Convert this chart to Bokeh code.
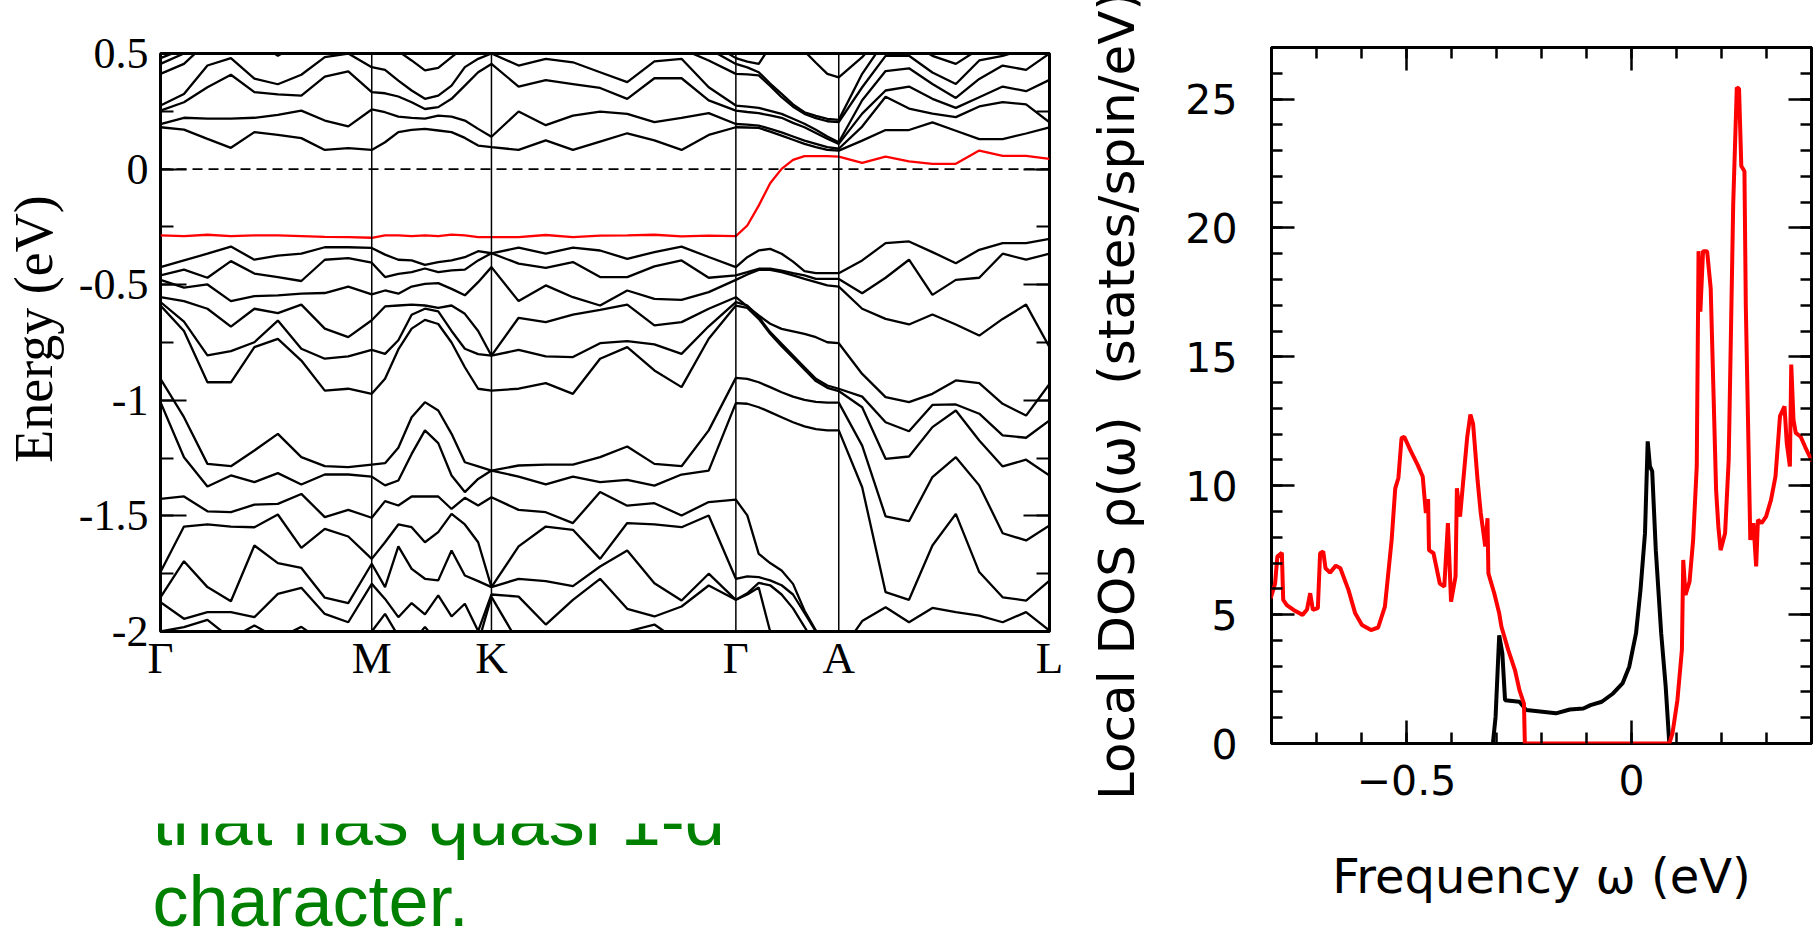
import numpy as np
from bokeh.plotting import figure
from bokeh.models import (Range1d, LinearAxis, FixedTicker, SingleIntervalTicker, Span,
                          CustomJSTickFormatter)
from bokeh.layouts import row, column
from bokeh.embed import file_html
from bokeh.resources import INLINE
from bokeh.core.properties import value

# ---------------- band structure data ----------------
hs_labels = ["Γ", "M", "K", "Γ", "A", "L"]
hs_pos = [0.0, 1.0, 1.5667, 2.7237, 3.2108, 4.2084]
pts_per_segment = 9

energy_ticks = [0.5, 0.0, -0.5, -1.0, -1.5, -2.0]
energy_tick_labels = ["0.5", "0", "-0.5", "-1", "-1.5", "-2"]

band_u1 = [0.181, 0.171, 0.131, 0.092, 0.160, 0.148, 0.134, 0.083, 0.091, 0.083,
           0.116, 0.160, 0.170, 0.174, 0.167, 0.160, 0.135, 0.102, 0.095,
           0.083, 0.124, 0.083, 0.119, 0.155, 0.124, 0.083, 0.148, 0.181,
           0.180, 0.178, 0.162, 0.145, 0.127, 0.109, 0.095, 0.083, 0.080,
           0.123, 0.169, 0.169, 0.202, 0.166, 0.130, 0.130, 0.154, 0.180]
band_u2 = [0.195, 0.222, 0.218, 0.218, 0.222, 0.235, 0.253, 0.210, 0.185, 0.258,
           0.246, 0.227, 0.222, 0.218, 0.231, 0.227, 0.210, 0.174, 0.140,
           0.249, 0.190, 0.231, 0.249, 0.239, 0.203, 0.222, 0.242, 0.195,
           0.192, 0.188, 0.174, 0.159, 0.141, 0.123, 0.109, 0.095, 0.088,
           0.184, 0.313, 0.262, 0.240, 0.225, 0.271, 0.290, 0.280, 0.202]
band_u3 = [0.253, 0.289, 0.354, 0.408, 0.333, 0.323, 0.318, 0.400, 0.423, 0.333,
           0.328, 0.314, 0.289, 0.260, 0.268, 0.304, 0.361, 0.419, 0.455,
           0.357, 0.385, 0.368, 0.351, 0.304, 0.393, 0.393, 0.297, 0.253,
           0.247, 0.242, 0.232, 0.222, 0.200, 0.181, 0.156, 0.131, 0.109,
           0.240, 0.340, 0.357, 0.304, 0.265, 0.311, 0.357, 0.337, 0.386]
band_u4 = [0.275, 0.325, 0.448, 0.480, 0.391, 0.367, 0.408, 0.484, 0.500, 0.441,
           0.429, 0.383, 0.340, 0.304, 0.318, 0.361, 0.441, 0.477, 0.500,
           0.448, 0.477, 0.462, 0.419, 0.376, 0.466, 0.477, 0.354, 0.275,
           0.270, 0.265, 0.252, 0.239, 0.218, 0.196, 0.170, 0.141, 0.116,
           0.298, 0.424, 0.436, 0.368, 0.308, 0.390, 0.448, 0.429, 0.500]
band_u5 = [0.412, 0.455, 0.550, 0.600, 0.560, 0.490, 0.550, 0.600, 0.580, 0.530,
           0.530, 0.510, 0.470, 0.427, 0.438, 0.484, 0.530, 0.560, 0.560,
           0.530, 0.520, 0.520, 0.550, 0.560, 0.540, 0.520, 0.470, 0.412,
           0.410, 0.405, 0.360, 0.311, 0.270, 0.239, 0.220, 0.207, 0.203,
           0.354, 0.490, 0.490, 0.418, 0.368, 0.470, 0.490, 0.520, 0.550]
band_u6 = [0.455, 0.500, 0.600, 0.650, 0.650, 0.600, 0.620, 0.650, 0.650, 0.600,
           0.600, 0.580, 0.550, 0.510, 0.520, 0.550, 0.600, 0.600, 0.600,
           0.600, 0.600, 0.600, 0.600, 0.600, 0.600, 0.580, 0.520, 0.455,
           0.440, 0.419, 0.370, 0.325, 0.280, 0.246, 0.230, 0.217, 0.213,
           0.412, 0.560, 0.550, 0.490, 0.455, 0.520, 0.560, 0.570, 0.580]
band_u7 = [0.480, 0.520, 0.620, 0.680, 0.680, 0.650, 0.660, 0.680, 0.680, 0.650,
           0.650, 0.630, 0.600, 0.580, 0.580, 0.600, 0.620, 0.620, 0.620,
           0.640, 0.650, 0.650, 0.650, 0.650, 0.630, 0.600, 0.550, 0.480,
           0.465, 0.455, 0.530, 0.600, 0.580, 0.510, 0.460, 0.412, 0.397,
           0.484, 0.600, 0.620, 0.600, 0.600, 0.620, 0.620, 0.620, 0.620]
band_red = [-0.287, -0.290, -0.284, -0.290, -0.287, -0.287, -0.290, -0.293, -0.294, -0.297,
            -0.287, -0.287, -0.290, -0.287, -0.290, -0.283, -0.287, -0.294, -0.294,
            -0.294, -0.285, -0.294, -0.288, -0.287, -0.284, -0.291, -0.288, -0.290,
            -0.244, -0.158, -0.061, 0.001, 0.040, 0.056, 0.056, 0.056, 0.054,
            0.027, 0.054, 0.033, 0.023, 0.023, 0.080, 0.057, 0.057, 0.044]
band_l1 = [-0.424, -0.395, -0.366, -0.335, -0.392, -0.374, -0.366, -0.338, -0.338, -0.341,
           -0.370, -0.392, -0.395, -0.414, -0.402, -0.395, -0.381, -0.355, -0.364,
           -0.340, -0.366, -0.340, -0.352, -0.388, -0.359, -0.335, -0.380, -0.424,
           -0.381, -0.352, -0.345, -0.366, -0.400, -0.441, -0.450, -0.450, -0.450,
           -0.395, -0.320, -0.313, -0.359, -0.407, -0.349, -0.320, -0.320, -0.302]
band_l2 = [-0.460, -0.435, -0.470, -0.398, -0.452, -0.467, -0.484, -0.392, -0.385, -0.405,
           -0.467, -0.453, -0.446, -0.430, -0.446, -0.438, -0.435, -0.395, -0.364,
           -0.409, -0.427, -0.402, -0.467, -0.467, -0.421, -0.395, -0.470, -0.460,
           -0.446, -0.431, -0.431, -0.439, -0.450, -0.460, -0.475, -0.475, -0.475,
           -0.537, -0.470, -0.392, -0.544, -0.479, -0.470, -0.366, -0.392, -0.366]
band_l3 = [-0.479, -0.513, -0.499, -0.571, -0.549, -0.546, -0.539, -0.536, -0.508, -0.542,
           -0.525, -0.539, -0.508, -0.496, -0.493, -0.518, -0.546, -0.489, -0.424,
           -0.571, -0.503, -0.554, -0.590, -0.525, -0.561, -0.566, -0.532, -0.479,
           -0.456, -0.436, -0.436, -0.446, -0.460, -0.475, -0.489, -0.503, -0.508,
           -0.604, -0.648, -0.672, -0.629, -0.672, -0.720, -0.648, -0.586, -0.770]
band_l4 = [-0.554, -0.571, -0.604, -0.681, -0.604, -0.623, -0.586, -0.690, -0.727, -0.654,
           -0.594, -0.590, -0.586, -0.590, -0.600, -0.590, -0.626, -0.700, -0.807,
           -0.643, -0.662, -0.629, -0.609, -0.586, -0.676, -0.662, -0.604, -0.554,
           -0.594, -0.633, -0.669, -0.691, -0.702, -0.713, -0.727, -0.749, -0.753,
           -0.886, -0.986, -1.008, -0.972, -0.914, -0.926, -1.015, -1.066, -0.929]
band_l5 = [-0.575, -0.660, -0.806, -0.787, -0.749, -0.655, -0.777, -0.820, -0.810, -0.782,
           -0.799, -0.740, -0.630, -0.604, -0.615, -0.700, -0.777, -0.800, -0.807,
           -0.782, -0.810, -0.813, -0.753, -0.744, -0.758, -0.799, -0.680, -0.575,
           -0.590, -0.640, -0.705, -0.756, -0.806, -0.857, -0.907, -0.936, -0.950,
           -0.984, -1.095, -1.134, -1.020, -1.018, -1.058, -1.152, -1.162, -1.087]
band_l6 = [-0.590, -0.700, -0.922, -0.922, -0.770, -0.734, -0.828, -0.958, -0.950, -0.972,
           -0.907, -0.780, -0.690, -0.652, -0.670, -0.750, -0.857, -0.950, -0.958,
           -0.950, -0.926, -0.972, -0.820, -0.770, -0.871, -0.943, -0.734, -0.590,
           -0.600, -0.648, -0.712, -0.766, -0.816, -0.867, -0.917, -0.946, -0.960,
           -1.030, -1.253, -1.243, -1.116, -1.044, -1.174, -1.286, -1.257, -1.325]
band_l7 = [-0.907, -1.073, -1.275, -1.285, -1.217, -1.145, -1.246, -1.285, -1.289, -1.278,
           -1.272, -1.205, -1.073, -1.008, -1.044, -1.145, -1.268, -1.286, -1.304,
           -1.282, -1.278, -1.278, -1.246, -1.200, -1.275, -1.285, -1.130, -0.903,
           -0.907, -0.922, -0.943, -0.965, -0.984, -0.998, -1.007, -1.010, -1.010,
           -1.196, -1.502, -1.523, -1.332, -1.246, -1.368, -1.575, -1.606, -1.541]
band_l8 = [-1.008, -1.246, -1.373, -1.325, -1.354, -1.315, -1.364, -1.321, -1.321, -1.330,
           -1.368, -1.347, -1.232, -1.130, -1.185, -1.325, -1.397, -1.340, -1.304,
           -1.330, -1.364, -1.330, -1.354, -1.344, -1.369, -1.321, -1.304, -1.012,
           -1.015, -1.030, -1.051, -1.073, -1.095, -1.113, -1.125, -1.130, -1.130,
           -1.376, -1.830, -1.863, -1.628, -1.491, -1.743, -1.852, -1.866, -1.780]
band_l9 = [-1.426, -1.416, -1.480, -1.484, -1.451, -1.448, -1.405, -1.505, -1.474, -1.508,
           -1.436, -1.455, -1.416, -1.416, -1.416, -1.470, -1.422, -1.455, -1.419,
           -1.474, -1.484, -1.531, -1.397, -1.456, -1.445, -1.498, -1.440, -1.430,
           -1.498, -1.664, -1.704, -1.736, -1.794, -1.909, -1.996, -2.050, -2.100,
           -1.955, -1.895, -1.960, -1.898, -1.916, -1.931, -1.960, -1.916, -1.996]
band_l10 = [-1.743, -1.546, -1.537, -1.546, -1.549, -1.494, -1.638, -1.556, -1.589, -1.686,
            -1.614, -1.537, -1.549, -1.614, -1.570, -1.491, -1.537, -1.614, -1.808,
            -1.632, -1.546, -1.560, -1.686, -1.531, -1.537, -1.549, -1.498, -1.772,
            -1.762, -1.765, -1.779, -1.800, -1.840, -1.920, -2.000, -2.080, -2.150,
            -2.200, -2.200, -2.200, -2.200, -2.200, -2.200, -2.200, -2.200, -2.200]
band_l11 = [-1.852, -1.696, -1.808, -1.869, -1.628, -1.704, -1.725, -1.854, -1.877, -1.707,
            -1.808, -1.632, -1.729, -1.772, -1.779, -1.650, -1.758, -1.782, -1.808,
            -1.772, -1.782, -1.804, -1.719, -1.650, -1.791, -1.866, -1.750, -1.863,
            -1.835, -1.790, -1.800, -1.840, -1.900, -1.980, -2.060, -2.150, -2.200,
            -2.250, -2.250, -2.250, -2.250, -2.250, -2.250, -2.250, -2.250, -2.250]
band_l12 = [-1.873, -1.945, -1.916, -1.916, -1.938, -1.837, -1.811, -1.924, -1.960, -1.794,
            -1.859, -1.938, -1.877, -1.926, -1.844, -1.935, -1.880, -1.998, -1.840,
            -1.849, -1.970, -1.863, -1.772, -1.902, -1.935, -1.892, -1.801, -1.863,
            -1.840, -1.810, -2.000, -2.200, -2.300, -2.300, -2.300, -2.300, -2.300,
            -2.300, -2.300, -2.300, -2.300, -2.300, -2.300, -2.300, -2.300, -2.300]
band_l13 = [-2.000, -1.981, -1.950, -2.030, -1.974, -2.030, -1.980, -2.050, -2.100, -2.000,
            -1.924, -2.020, -2.050, -1.980, -2.050, -2.050, -2.050, -2.050, -1.850,
            -2.050, -2.100, -2.100, -2.080, -2.000, -1.970, -2.050, -2.100, -2.000,
            -2.300, -2.300, -2.300, -2.300, -2.300, -2.300, -2.300, -2.300, -2.300,
            -2.350, -2.350, -2.350, -2.350, -2.350, -2.350, -2.350, -2.350, -2.350]

black_bands = [band_u1, band_u2, band_u3, band_u4, band_u5, band_u6, band_u7,
               band_l1, band_l2, band_l3, band_l4, band_l5, band_l6, band_l7,
               band_l8, band_l9, band_l10, band_l11, band_l12, band_l13]

# ---------------- local DOS data ----------------
omega_ticks = [-0.5, 0.0]
omega_tick_labels = ["\u22120.5", "0"]

dos_w_red = [-0.802, -0.792, -0.787, -0.777, -0.774, -0.766, -0.751, -0.731, -0.721, -0.714,
             -0.708, -0.697, -0.692, -0.685, -0.680, -0.670, -0.657, -0.647, -0.629, -0.614,
             -0.599, -0.579, -0.563, -0.548, -0.533, -0.525, -0.518, -0.511, -0.505, -0.492,
             -0.475, -0.464, -0.457, -0.452, -0.450, -0.440, -0.426, -0.416, -0.408, -0.401,
             -0.391, -0.388, -0.381, -0.371, -0.365, -0.358, -0.352, -0.342, -0.335, -0.325,
             -0.320, -0.318, -0.305, -0.294, -0.289, -0.274, -0.259, -0.249, -0.239, -0.237,
             0.084, 0.091, 0.102, 0.112, 0.115, 0.120, 0.129, 0.137, 0.145, 0.149,
             0.153, 0.159, 0.168, 0.176, 0.188, 0.193, 0.198, 0.208, 0.216, 0.226,
             0.234, 0.239, 0.244, 0.251, 0.254, 0.264, 0.271, 0.277, 0.281, 0.289,
             0.299, 0.310, 0.320, 0.330, 0.340, 0.345, 0.352, 0.355, 0.360, 0.365,
             0.376, 0.386, 0.401]
dos_red = [5.63, 6.20, 7.25, 7.40, 5.57, 5.37, 5.18, 4.99, 5.20, 5.83,
           5.18, 5.25, 7.38, 7.45, 6.80, 6.63, 6.90, 6.80, 5.96, 5.05,
           4.60, 4.40, 4.50, 5.31, 7.90, 9.90, 10.30, 11.85, 11.90, 11.40,
           10.80, 10.36, 8.94, 9.48, 7.50, 7.38, 6.20, 6.09, 8.55, 5.50,
           6.48, 9.90, 8.80, 10.75, 11.90, 12.76, 12.40, 10.20, 8.94, 7.64,
           8.74, 6.60, 5.83, 5.05, 4.53, 3.63, 2.85, 2.07, 1.55, 0.00,
           0.00, 0.39, 1.68, 3.63, 7.12, 5.76, 6.28, 7.90, 10.75, 19.10,
           16.75, 19.10, 19.10, 17.66, 9.84, 8.42, 7.50, 8.16, 11.00, 20.90,
           25.45, 25.40, 22.40, 22.20, 17.00, 7.90, 8.55, 6.87, 8.68, 8.55,
           8.80, 9.45, 10.36, 12.70, 13.08, 11.66, 10.75, 14.70, 12.56, 12.05,
           11.90, 11.50, 10.95]

dos_w_black = [-0.308, -0.302, -0.294, -0.287, -0.281, -0.249, -0.234, -0.198, -0.168, -0.137,
               -0.107, -0.091, -0.066, -0.041, -0.020, -0.005, 0.010, 0.020, 0.030, 0.036,
               0.041, 0.046, 0.054, 0.066, 0.076, 0.084]
dos_black = [0.00, 1.04, 4.20, 3.50, 1.68, 1.62, 1.30, 1.23, 1.17, 1.32,
             1.36, 1.49, 1.62, 1.94, 2.33, 2.98, 4.27, 5.96, 8.16, 11.72,
             10.75, 10.56, 7.50, 4.27, 2.20, 0.00]

caption_lines = ["that has quasi 1-d", "character."]

# ---------------- helpers ----------------
SERIF = "Liberation Serif"
SANS = "DejaVu Sans"
BLANK = CustomJSTickFormatter(code="return ''")


def style_axis(ax, font, size, tick_in, minor_in, lw, standoff):
    ax.axis_line_color = None
    ax.major_tick_in = tick_in
    ax.major_tick_out = 0
    ax.minor_tick_in = minor_in
    ax.minor_tick_out = 0
    ax.major_tick_line_width = lw
    ax.minor_tick_line_width = lw
    ax.major_tick_line_color = "black"
    ax.minor_tick_line_color = "black"
    ax.major_label_text_font = font
    ax.major_label_text_font_size = size
    ax.major_label_text_color = "black"
    ax.major_label_standoff = standoff
    ax.axis_label_text_font = font
    ax.axis_label_text_font_style = "normal"
    ax.axis_label_text_color = "black"


# ---------------- band structure figure ----------------
kpath = []
for i in range(len(hs_pos) - 1):
    seg = np.linspace(hs_pos[i], hs_pos[i + 1], pts_per_segment + 1)
    kpath.extend((seg if i == 0 else seg[1:]).tolist())

p1 = figure(width=1075, height=780, x_range=Range1d(hs_pos[0], hs_pos[-1]),
            y_range=Range1d(-2, 0.5), output_backend="svg", toolbar_location=None,
            min_border_left=151, min_border_right=26, min_border_top=53,
            min_border_bottom=149, frame_align=False)
p1.grid.visible = False
p1.outline_line_color = "black"
p1.outline_line_width = 3
p1.background_fill_color = "white"
p1.border_fill_color = "white"

yl = p1.yaxis[0]
yl.ticker = SingleIntervalTicker(interval=0.5, num_minor_ticks=2)
yl.major_label_overrides = {v: t for v, t in zip(energy_ticks, energy_tick_labels)}
style_axis(yl, SERIF, "44px", 26, 13, 2, 12)
yl.axis_label = "\u2002Energy (eV)"
yl.axis_label_text_font_size = "54px"
yl.axis_label_standoff = 12

yr = LinearAxis(ticker=SingleIntervalTicker(interval=0.5, num_minor_ticks=2),
                formatter=BLANK)
style_axis(yr, SERIF, "12px", 26, 13, 2, 0)
p1.add_layout(yr, "right")

xb = p1.xaxis[0]
xb.ticker = FixedTicker(ticks=hs_pos)
xb.major_label_overrides = {v: t for v, t in zip(hs_pos, hs_labels)}
style_axis(xb, SERIF, "45px", 0, 0, 0, 1)

p1.multi_line(xs=[kpath] * len(black_bands), ys=black_bands, line_color="black",
              line_width=2.3)
p1.line(kpath, band_red, line_color="#ff0000", line_width=2.3)

for pos in hs_pos[1:-1]:
    p1.add_layout(Span(location=pos, dimension="height", line_color="black",
                       line_width=1.5))
p1.add_layout(Span(location=0, dimension="width", line_color="black",
                   line_width=1.6, line_dash="10 6"))

# ---------------- caption figure (top of first line hidden) ----------------
p3 = figure(width=1075, height=154, x_range=Range1d(0, 1075), y_range=Range1d(154, 0),
            output_backend="svg", toolbar_location=None, min_border=0,
            x_axis_location=None, y_axis_location=None, frame_align=False)
p3.grid.visible = False
p3.outline_line_color = None
p3.text(x=[152, 152], y=[39, 120], text=caption_lines, text_color="#008000",
        text_font=value("Liberation Sans"), text_font_size="72px",
        text_baseline="alphabetic", text_align="left")
p3.quad(left=[0], right=[1075], top=[0], bottom=[43], fill_color="white",
        line_color=None)

# ---------------- DOS figure ----------------
p2 = figure(width=742, height=934, x_range=Range1d(-0.8, 0.4), y_range=Range1d(0, 27),
            output_backend="svg", toolbar_location=None,
            min_border_left=196, min_border_right=6, min_border_top=47,
            min_border_bottom=191, frame_align=False)
p2.grid.visible = False
p2.outline_line_color = "black"
p2.outline_line_width = 3
p2.background_fill_color = "white"
p2.border_fill_color = "white"

dl = p2.yaxis[0]
dl.ticker = SingleIntervalTicker(interval=5, num_minor_ticks=5)
style_axis(dl, SANS, "41px", 23, 11, 2.5, 34)
dl.axis_label = "Local DOS \u03c1(\u03c9) \u00a0(states/spin/eV)"
dl.axis_label_text_font_size = "50px"
dl.axis_label_standoff = 36

db = p2.xaxis[0]
db.ticker = SingleIntervalTicker(interval=0.5, num_minor_ticks=5)
db.major_label_overrides = {v: t for v, t in zip(omega_ticks, omega_tick_labels)}
style_axis(db, SANS, "41px", 23, 11, 2.5, 21)
db.axis_label = "Frequency \u03c9 (eV)"
db.axis_label_text_font_size = "48px"
db.axis_label_standoff = 50

dr = LinearAxis(ticker=SingleIntervalTicker(interval=5, num_minor_ticks=5),
                formatter=BLANK)
style_axis(dr, SANS, "12px", 23, 11, 2.5, 0)
p2.add_layout(dr, "right")
dt = LinearAxis(ticker=SingleIntervalTicker(interval=0.5, num_minor_ticks=5),
                formatter=BLANK)
style_axis(dt, SANS, "12px", 23, 11, 2.5, 0)
p2.add_layout(dt, "above")

p2.line(dos_w_black, dos_black, line_color="black", line_width=4)
p2.line(dos_w_red, dos_red, line_color="#ff0000", line_width=4)

layout = row(column(p1, p3), p2)
open("out.html", "w").write(file_html(layout, INLINE))
